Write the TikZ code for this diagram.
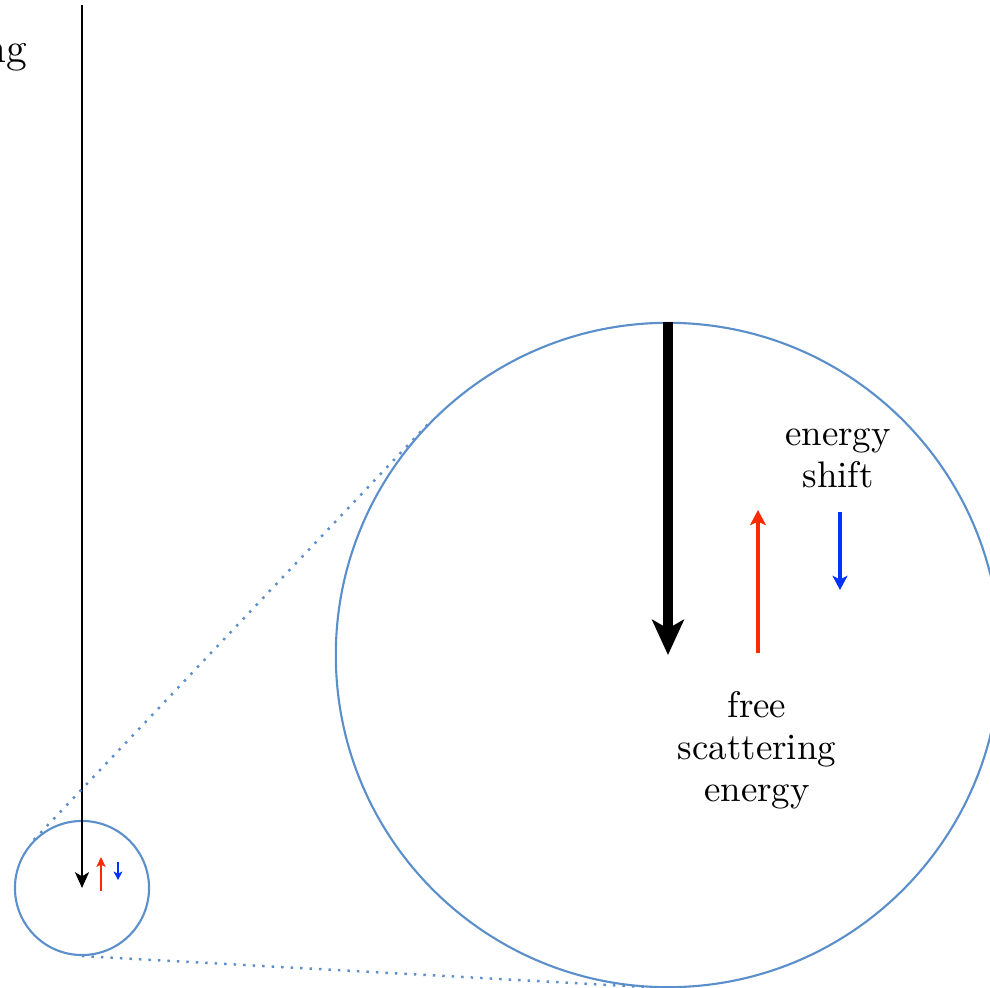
\documentclass[tikz,border=0pt]{standalone}
\usetikzlibrary{arrows.meta}
\definecolor{cring}{HTML}{5A8FCB}
\definecolor{cred}{HTML}{FF2A00}
\definecolor{cblue}{HTML}{0033FF}
\tikzset{
  ring/.style={draw=cring, line width=0.6pt, circle, inner sep=0pt, minimum size=#1},
  link/.style={draw=cring, line width=0.7pt, dotted},
  label/.style={align=center, inner sep=0pt, font=\fontsize{10.5}{12}\selectfont},
}

\begin{document}
\begin{tikzpicture}[x=0.01cm, y=-0.01cm]
  \useasboundingbox (0,0) rectangle (990,988);
  % small view
  \node[ring=1.34cm] (lens) at (82,888) {};
  \coordinate (bTop) at (82,5);
  \coordinate (bTip) at (82,888);
  \draw[line width=0.6pt, -{Stealth[length=4.5pt, width=4pt, inset=1.2pt]}] (bTop) -- (bTip);
  \node[label, font=\fontsize{12}{14}\selectfont, anchor=base east] (bind) at (28,63) {binding};
  \draw[cred, line width=0.4pt, -{Stealth[length=2.8pt, width=2.6pt, inset=0.6pt]}] (101,891) -- (101,857);
  \draw[cblue, line width=0.4pt, -{Stealth[length=2.4pt, width=2.5pt, inset=0.6pt]}] (118,862) -- (118,880);
  % magnified view
  \node[ring=6.64cm] (zoom) at (668,655) {};
  \draw[link] (lens.north west) -- (zoom.north west);
  \draw[link] (lens.south) -- (zoom.south);
  \draw[line width=2.7pt, -{Stealth[length=10pt, width=9pt, inset=2.5pt]}] (zoom.north) -- (zoom.center);
  \draw[cred, line width=1.4pt, -{Stealth[length=4.3pt, width=4.5pt, inset=1pt]}] (758,653) -- (758,510);
  \draw[cblue, line width=1.4pt, -{Stealth[length=4pt, width=4.2pt, inset=1pt]}] (840,512) -- (840,590);
  \node[label] (shift) at (838,458) {energy\\shift};
  \node[label] (free) at (757,750) {free\\scattering\\energy};
\end{tikzpicture}
\end{document}
